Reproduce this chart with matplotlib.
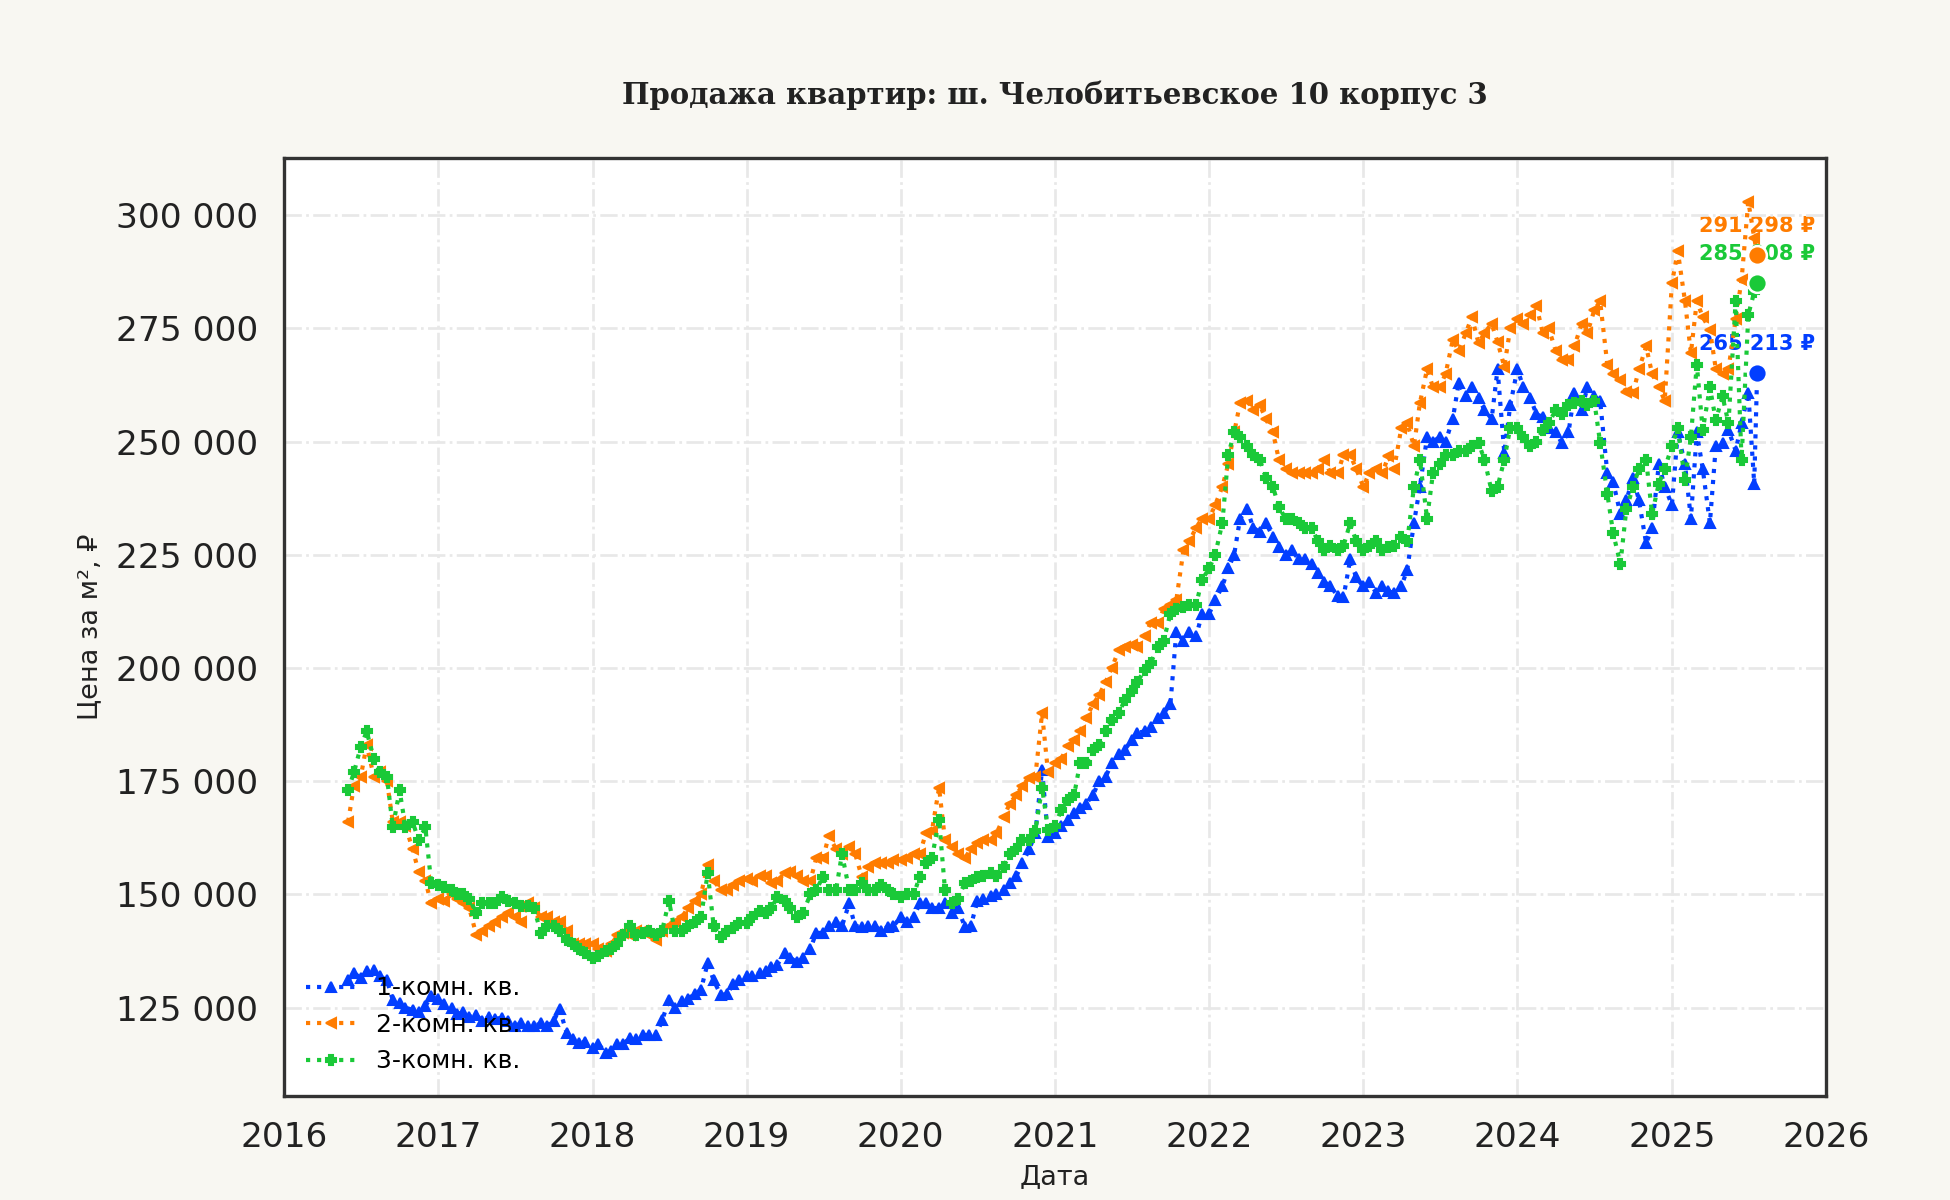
import numpy as np
import pandas as pd
import matplotlib
matplotlib.use("Agg")
import matplotlib.pyplot as plt
import matplotlib.dates as mdates
from matplotlib.ticker import FuncFormatter

# даты: 1 и 15 число каждого месяца, последняя точка - 22.07.2025
dates = list(pd.date_range("2016-06-01", "2025-07-15", freq="SMS"))
dates.append(pd.Timestamp("2025-07-22"))

# цена за м2, тыс. руб. (по две точки на месяц)
room1 = [
    131, 132.7, 131.5, 133, 133.3, 132, 131, 126.7, 126, 125, 124.5, 124, 125.3, 127.5,
    127, 125.8, 125, 123.6, 124, 123, 123.4, 122, 123, 122.5, 122.8, 122,
    121, 121.5, 120.9, 121, 121.5, 121, 122, 124.8, 119.3, 118, 117.3, 117.5,
    116, 117, 115, 115.5, 117, 117, 118.4, 118, 119, 118.9, 119, 122.2,
    126.7, 125, 126.4, 127, 128, 129, 134.9, 131, 127.8, 128, 130.2, 131,
    131.9, 132, 132.7, 133, 134, 134.5, 137, 136, 135, 136, 138, 141.5,
    141.5, 143, 144, 143, 148, 143, 142.9, 143, 143, 142, 142.9, 143,
    145, 144, 145, 148, 148, 147, 147, 148, 145.9, 147, 142.9, 143,
    148.6, 149, 149.7, 150, 151, 152.5, 154, 156.9, 160, 163.5, 177.5, 162.7,
    163.5, 165, 166.5, 168, 169, 170, 172, 175, 176, 179, 181, 182,
    184, 185.7, 186, 187, 189, 190, 192, 208, 206, 208, 207, 212,
    212, 215, 218, 222, 225, 233, 235, 231, 230, 232, 229, 226.7,
    225, 226, 224, 224, 223, 221, 219, 218, 216, 215.6, 224, 220,
    218, 219, 216.5, 218, 217, 216.5, 218, 221.7, 232, 240, 251, 250,
    251, 250, 255, 263, 260, 262, 259.6, 257, 255, 266, 247.5, 258,
    266, 262, 259.6, 256, 255.5, 253, 252, 249.7, 252, 260.7, 257, 262,
    260, 259, 243, 241, 234, 237, 242, 237, 227.5, 231, 245, 240,
    236, 252, 245, 233, 252, 244, 232, 249, 249.7, 252.5, 248, 254,
    260.7, 240.7, 265.213]

room2 = [
    166, 174, 176, 183, 176, 177, 175, 166, 166, 165, 160, 155, 153, 148,
    149, 148.6, 150, 149, 148, 147, 141, 142, 143, 144, 145, 146,
    145, 144, 148, 147, 145, 145, 144, 144, 142, 139, 139, 139,
    139, 138, 137.6, 139, 141, 141.5, 141, 142, 142, 141, 140, 142,
    143, 144, 145, 147, 148.6, 150, 156.6, 153, 151, 151, 152, 153,
    153.3, 153, 154, 154, 152.5, 153, 154.7, 155, 154, 153, 153, 158,
    158, 163, 160, 159, 160.4, 159, 153.9, 156, 156.9, 157, 157, 157.7,
    157.7, 158, 159, 159, 163.5, 164, 173.6, 162, 160.4, 159, 158, 160,
    161.3, 162, 162, 163.5, 167, 170, 172, 174, 175.8, 176, 190, 177,
    179, 180, 182.7, 184, 186, 189, 192, 194, 197, 200, 204, 204.7,
    205, 204.7, 207, 210, 210, 213, 214, 215, 226, 228, 231, 233,
    233, 236, 240, 245, 252, 258.5, 259, 257, 258, 255, 252, 246,
    244, 243, 243, 243, 243, 244, 246, 243, 243, 247, 247, 244,
    240, 243, 244, 243, 246.7, 244, 253, 254, 249, 258.5, 266, 262,
    262, 265, 272.5, 270, 274, 277.5, 271.7, 274, 276, 272, 266.5, 275,
    277, 276, 278, 280, 274, 275, 270, 268, 268, 271, 276, 274,
    279, 281, 267, 265, 263.5, 261, 260.7, 266, 271, 265, 262, 259,
    285, 292, 281, 269.5, 281, 277.5, 274.7, 266, 265, 266, 277, 285.7,
    303, 295, 291.298]

room3 = [
    173, 177, 182.6, 186, 180, 177, 176, 164.8, 173, 164.8, 166, 162, 164.8, 152.5,
    152, 151.7, 151, 150, 150, 149, 145.9, 148, 148, 148, 149.5, 148.5,
    148, 147.5, 147.5, 147, 141.5, 143, 143, 142, 140, 139, 138, 137,
    136, 136.5, 137.6, 138, 139, 141, 143, 141, 141.5, 142, 141, 142,
    148.6, 142, 142, 143, 144, 145, 154.7, 143, 140.7, 142, 142.5, 143.7,
    143.7, 145, 146.4, 146, 147, 149.5, 148.6, 147, 145, 146, 150, 151,
    153.9, 151, 151, 159, 151, 151, 152.5, 151, 151, 152, 151, 150,
    149.5, 150, 150, 153.9, 156.9, 158, 166.5, 151, 148, 149, 152.5, 153,
    153.9, 154, 154.7, 154, 156, 159, 160, 162, 162, 164, 173.6, 164.3,
    165, 168.7, 170.9, 172, 179, 179, 181.9, 183, 186, 188.5, 190, 193,
    195, 197, 199.5, 201, 204.7, 206, 212, 213, 213.5, 214, 214, 219.5,
    222, 225, 232, 247, 252, 251, 249, 247, 246, 242, 240, 235.5,
    233, 233, 232, 231, 231, 228, 226, 227, 226, 227, 232, 228,
    226, 227, 228, 226, 226.7, 227, 229, 228, 240, 246, 233, 243,
    245, 247, 247, 248, 248, 249, 249.7, 246, 239, 240, 246, 253,
    253, 251, 249, 250, 252.5, 254, 257, 256, 258, 258.5, 259, 258,
    259, 249.7, 238.5, 229.7, 223, 235, 240, 244, 246, 234, 240.7, 244,
    249, 253, 241.5, 251, 267, 252.5, 262, 254.7, 260, 254, 281, 246,
    278, 283, 285.008]

labels = ["1-комн. кв.", "2-комн. кв.", "3-комн. кв."]
colors = ["#023eff", "#ff7c00", "#1ac938"]
markers = ["^", "<", "P"]

fig = plt.figure(figsize=(13, 8), dpi=150, facecolor="#f8f7f2")
ax = fig.add_axes([0.1456, 0.0867, 0.7908, 0.7816])
ax.set_facecolor("white")

for vals, lab, col, mk in zip([room1, room2, room3], labels, colors, markers):
    y = np.array(vals) * 1000
    ax.plot(dates, y, linestyle=":", linewidth=2, marker=mk, markersize=5,
            color=col, label=lab, zorder=2)
    ax.plot(dates[-1], y[-1], "o", markersize=9, color=col,
            markeredgecolor="white", markeredgewidth=1.2, zorder=5)
    ax.annotate(f"{int(round(y[-1])):,} ₽".replace(",", " "), (dates[-1], y[-1]),
                xytext=(0, 9), textcoords="offset points", ha="center", va="bottom",
                fontsize=10, fontweight="bold", color=col, zorder=1.5)

ax.set_xlim(pd.Timestamp("2016-01-01"), pd.Timestamp("2026-01-01"))
ax.set_ylim(105500, 312600)
ax.xaxis.set_major_locator(mdates.YearLocator())
ax.xaxis.set_major_formatter(mdates.DateFormatter("%Y"))
ax.yaxis.set_major_formatter(FuncFormatter(lambda v, p: f"{int(v):,}".replace(",", " ")))
ax.tick_params(axis="both", labelsize=16.5, length=0, colors="#222222")
ax.tick_params(axis="y", pad=12.5)
ax.tick_params(axis="x", pad=12)

ax.grid(True, linestyle="-.", color="#e8e8e8", linewidth=1.3)
for s in ax.spines.values():
    s.set_color("#333333")
    s.set_linewidth(1.6)

ax.set_title("Продажа квартир: ш. Челобитьевское 10 корпус 3", family="DejaVu Serif",
             fontweight="bold", fontsize=14, pad=26, color="#222222")
ax.set_xlabel("Дата", fontsize=13, color="#222222", labelpad=5)
ax.set_ylabel("Цена за м², ₽", fontsize=13, color="#222222", labelpad=6)

ax.legend(loc="lower left", frameon=False, fontsize=12)

fig.savefig("out.png", dpi=150, facecolor=fig.get_facecolor())
